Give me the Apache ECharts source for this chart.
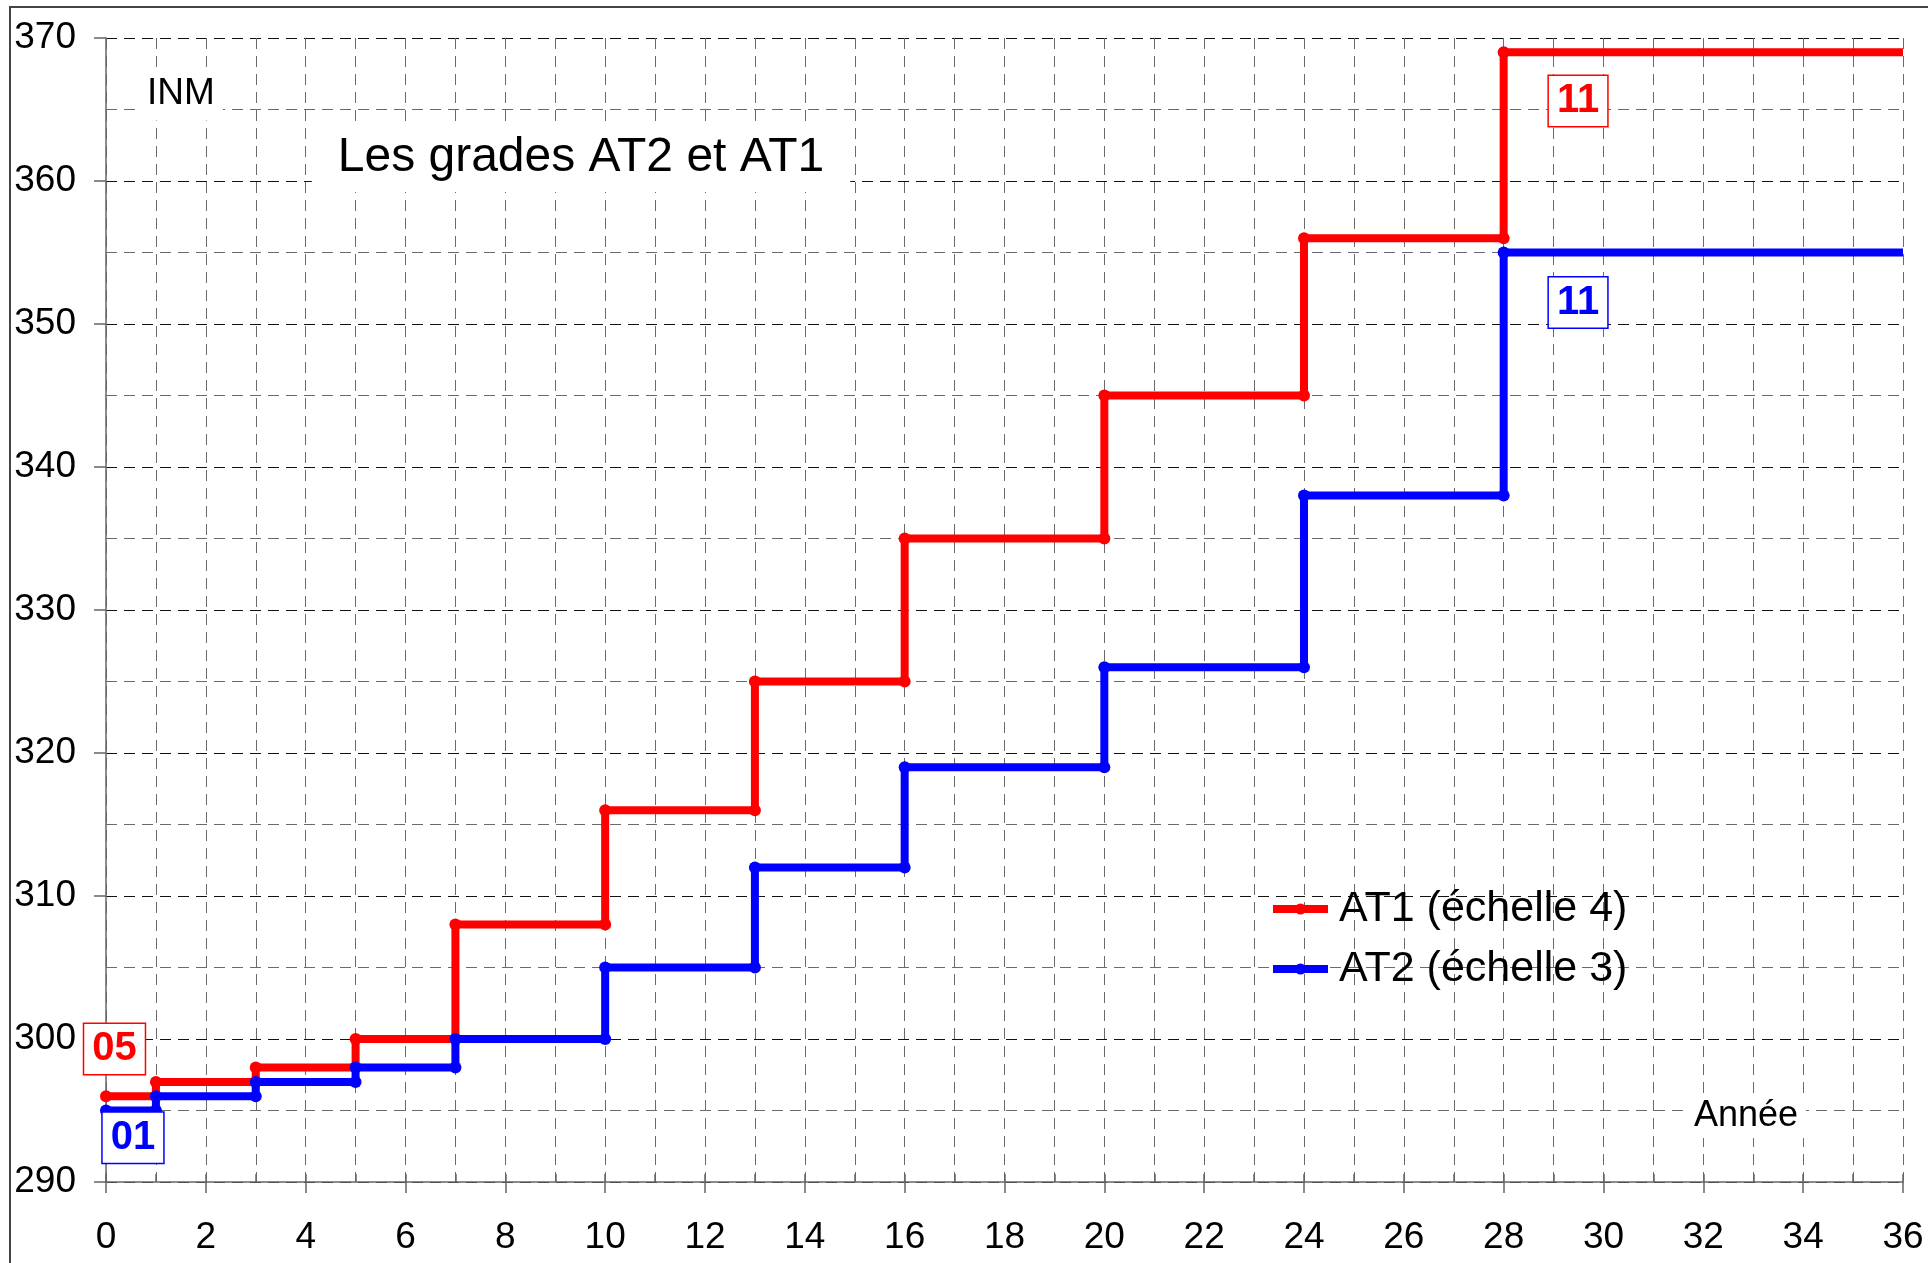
<!DOCTYPE html>
<html>
<head>
<meta charset="utf-8">
<title>Les grades AT2 et AT1</title>
<script src="https://cdn.jsdelivr.net/npm/echarts@6/dist/echarts.min.js"></script>
<style>
  html, body { margin: 0; padding: 0; background: #fff; }
  #chart { width: 1928px; height: 1263px; }
</style>
</head>
<body>
<div id="chart"></div>
<script>
// step years (last one = end of the chart) and INM levels
const years = [0, 1, 3, 5, 7, 10, 13, 16, 20, 24, 28, 36];
const at1 = [296, 297, 298, 300, 308, 316, 325, 335, 345, 356, 369];
const at2 = [295, 296, 297, 298, 300, 305, 312, 319, 326, 338, 355];

const FONT = '"Liberation Sans", Arial, sans-serif';

// each level is held from its year until the next step
function steps(values) {
  let pts = [];
  for (let i = 0; i < values.length; i++) {
    pts.push({ value: [years[i], values[i]] });
    let end = { value: [years[i + 1], values[i]] };
    if (i === values.length - 1) end.symbol = 'none';
    pts.push(end);
  }
  return pts;
}

const minorGrid = { show: true, lineStyle: { color: '#6a6a6a', width: 1, type: [11, 7] } };
const majorGrid = { show: true, lineStyle: { color: '#111', width: 1, type: [11, 7] } };

let myChart = echarts.init(document.getElementById('chart'));
myChart.setOption({
  animation: false,
  grid: { left: 106, right: 25, top: 38, bottom: 81, containLabel: false },
  legend: {
    left: 1264, top: 880, orient: 'vertical',
    itemWidth: 55, itemHeight: 14, itemGap: 12,
    lineStyle: { width: 8 },
    textStyle: { fontFamily: FONT, fontSize: 43, color: '#000', lineHeight: 48, padding: [0, 0, 0, 6] },
    data: ['AT1 (échelle 4)', 'AT2 (échelle 3)']
  },
  xAxis: [{
    type: 'value', min: 0, max: 36, interval: 2,
    axisLine: { show: true, onZero: false, lineStyle: { color: '#666', width: 1.5 } },
    axisTick: { show: true, length: 11, lineStyle: { color: '#666', width: 1.5 } },
    axisLabel: { fontFamily: FONT, fontSize: 37, color: '#000', margin: 37 },
    splitLine: minorGrid,
    minorTick: { show: false, splitNumber: 2 },
    minorSplitLine: minorGrid
  }, {
    // inner ticks every year
    type: 'value', min: 0, max: 36, interval: 1, position: 'bottom',
    axisLine: { show: false },
    axisTick: { show: true, inside: true, length: 8, lineStyle: { color: '#666', width: 1.5 } },
    axisLabel: { show: false },
    splitLine: { show: false }
  }],
  yAxis: {
    type: 'value', min: 290, max: 370, interval: 10,
    axisLine: { show: true, lineStyle: { color: '#666', width: 1.5 } },
    axisTick: { show: true, length: 12, lineStyle: { color: '#666', width: 1.5 } },
    axisLabel: { fontFamily: FONT, fontSize: 37, color: '#000', margin: 30 },
    splitLine: majorGrid,
    minorTick: { show: false, splitNumber: 2 },
    minorSplitLine: minorGrid
  },
  series: [{
    name: 'AT1 (échelle 4)', type: 'line',
    data: steps(at1),
    symbol: 'circle', symbolSize: 12, showAllSymbol: true,
    lineStyle: { color: '#ff0000', width: 8 },
    itemStyle: { color: '#ff0000' },
    z: 3
  }, {
    name: 'AT2 (échelle 3)', type: 'line',
    data: steps(at2),
    symbol: 'circle', symbolSize: 12, showAllSymbol: true,
    lineStyle: { color: '#0000ff', width: 8 },
    itemStyle: { color: '#0000ff' },
    z: 4
  }]
});

// boxed grade labels, placed in data space
function boxLabel(txt, color, x, y) {
  let p = myChart.convertToPixel({ gridIndex: 0 }, [x, y]);
  return {
    type: 'text', x: p[0], y: p[1], z: 10,
    style: {
      text: txt, fill: color, font: 'bold 40px ' + FONT,
      align: 'center', verticalAlign: 'middle',
      backgroundColor: '#fff', borderColor: color, borderWidth: 1.5,
      padding: [6, 8, 4, 8]
    }
  };
}

function plainText(txt, x, y, size, pad) {
  return {
    type: 'text', x: x, y: y, z: 10,
    style: {
      text: txt, fill: '#000', font: size + 'px ' + FONT,
      align: 'center', verticalAlign: 'middle',
      backgroundColor: '#fff', padding: pad
    }
  };
}

myChart.setOption({
  graphic: [
    { type: 'rect', z: -1, shape: { x: 10, y: 7, width: 2000, height: 2000 },
      style: { fill: 'none', stroke: '#444', lineWidth: 2 } },
    plainText('INM', 181, 94, 37, [8, 8]),
    plainText('Les grades AT2 et AT1', 581, 158, 48, [10, 26]),
    plainText('Année', 1746, 1116, 36, [4, 8]),
    boxLabel('05', '#ff0000', 0.17, 299.3),
    boxLabel('01', '#0000ff', 0.54, 293.1),
    boxLabel('11', '#ff0000', 29.49, 365.6),
    boxLabel('11', '#0000ff', 29.49, 351.5)
  ]
});
</script>
</body>
</html>
